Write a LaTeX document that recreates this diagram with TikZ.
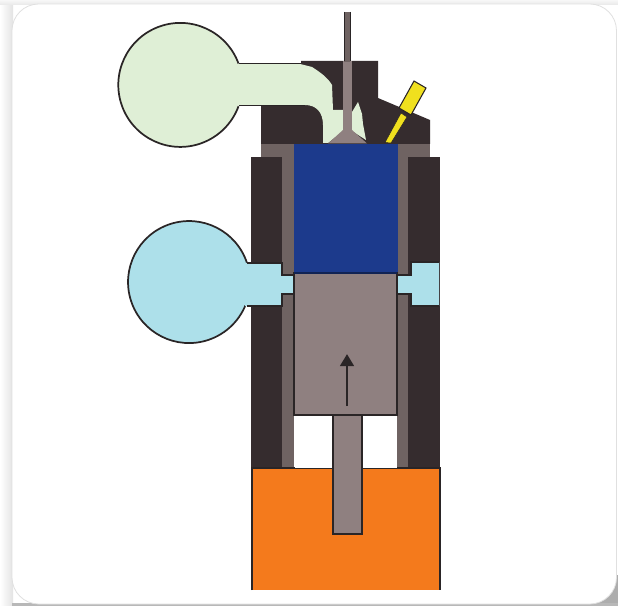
\documentclass[tikz,border=0pt]{standalone}
\usetikzlibrary{arrows.meta}
\definecolor{darkhead}{HTML}{352C2E}
\definecolor{liner}{HTML}{6F6362}
\definecolor{pistonc}{HTML}{8F8080}
\definecolor{bluec}{HTML}{1C3A8C}
\definecolor{orangec}{HTML}{F47A1C}
\definecolor{greenc}{HTML}{DFEFD6}
\definecolor{cyanc}{HTML}{ADE0EA}
\definecolor{yellowc}{HTML}{F0E01E}
\definecolor{edgec}{HTML}{2A2526}
\tikzset{
  outl/.style={draw=edgec,line width=1.3pt},
  solidpart/.style={fill=darkhead},
  linerpart/.style={fill=liner},
  pistonpart/.style={fill=pistonc,draw=edgec,line width=0.9pt},
}
\begin{document}
\begin{tikzpicture}[x=0.75pt,y=-0.75pt]
\useasboundingbox (0,0) rectangle (618,606);
% page and card
\fill[white] (0,0) rectangle (618,606);
\shade[left color=white,right color=black!11] (0,0) rectangle (13,606);
\shade[top color=black!3,bottom color=black!9] (0,0) rectangle (618,5);
\fill[black!32] (590,604) -- (618,604) -- (618,575) -- (616,575) -- cycle;
\fill[black!28] (12,603) rectangle (618,606);
\fill[white,draw=black!12,line width=0.6pt,rounded corners=20pt] (12,4) rectangle (616.5,604);
% cylinder walls
\fill[solidpart] (251,157) rectangle (283,468);
\fill[solidpart] (408,157) rectangle (440,468);
\fill[linerpart] (282,157) rectangle (294,468);
\fill[linerpart] (397,157) rectangle (408,468);
% head
\fill[solidpart] (301,61) -- (378,61) -- (378,98) -- (430,120) -- (430,144) -- (261,144) -- (261,105) -- (301,105) -- cycle;
\fill[linerpart] (261,144) rectangle (430,157);
% green bulb and duct
\fill[greenc] (230,64) -- (300,64) -- (312,67) .. controls (320,72) and (328,78) .. (332,85) -- (333,110) -- (343,110) -- (343,131) -- (328,143) -- (323,143) -- (323,125) .. controls (323,112) and (316,105) .. (305,105) -- (230,105) -- cycle;
\fill[greenc] (352,112) -- (358,102) -- (362,114) -- (363,124) -- (366,140) -- (352,131) -- cycle;
\draw[outl,fill=greenc] (238.5,63.5) arc[start angle=-20.2,end angle=-339.8,radius=62];
\fill[greenc] (228,65) rectangle (245,104);
\draw[outl] (238.5,63.5) -- (301,63.5) (238.5,105.5) -- (305,105.5);
% valve
\fill[pistonc] (343,61) rectangle (352,132);
\fill[pistonc] (343,130) -- (352,130) -- (367,143.5) -- (328,143.5) -- cycle;
\fill[liner] (344,12) rectangle (350,62);
\draw[edgec,line width=0.5pt] (344,12) -- (344,61) (350,12) -- (350,61);
% spark plug
\fill[yellowc,draw=edgec,line width=0.4pt] (385,142.5) -- (401,113) -- (407,117) -- (391,143) -- cycle;
\fill[yellowc,draw=edgec,line width=0.8pt] (414,81) -- (426,88) -- (411,115) -- (399,108) -- cycle;
% blue chamber
\fill[bluec] (294,144) rectangle (398,273);
% blue bulb and ports
\draw[outl,fill=cyanc] (247,263) arc[start angle=-18.2,end angle=-341.8,radius=61];
\fill[cyanc] (240,264) rectangle (282,305);
\fill[cyanc] (245,263) -- (282,263) -- (282,275) -- (294,275) -- (294,294) -- (282,294) -- (282,306) -- (245,306) -- cycle;
\fill[cyanc] (397,275) -- (411,275) -- (411,262) -- (439,262) -- (439,306) -- (411,306) -- (411,294) -- (397,294) -- cycle;
\draw[edgec,line width=0.8pt] (247,263) -- (282,263) -- (282,275) -- (294,275) (294,294) -- (282,294) -- (282,306) -- (247,306);
\draw[edgec,line width=0.8pt] (397,275) -- (411,275) -- (411,262) -- (439,262) (397,294) -- (411,294) -- (411,306) -- (439,306);
% piston
\draw[pistonpart] (294,273) rectangle (397,415);
\draw[bluec!60!black,line width=1pt] (294,273) -- (397,273);
% orange
\fill[orangec,draw=edgec,line width=0.9pt] (252,590) -- (252,468) -- (440,468) -- (440,590);
% white gap
\fill[white] (294.5,415.5) rectangle (333,467.5);
\fill[white] (362,415.5) rectangle (397,467.5);
\draw[pistonpart] (333,415) rectangle (362,534);
% arrow
\draw[-{Triangle[length=9pt,width=10pt]},edgec,line width=2.2pt] (347,406) -- (347,354);
\end{tikzpicture}
\end{document}
